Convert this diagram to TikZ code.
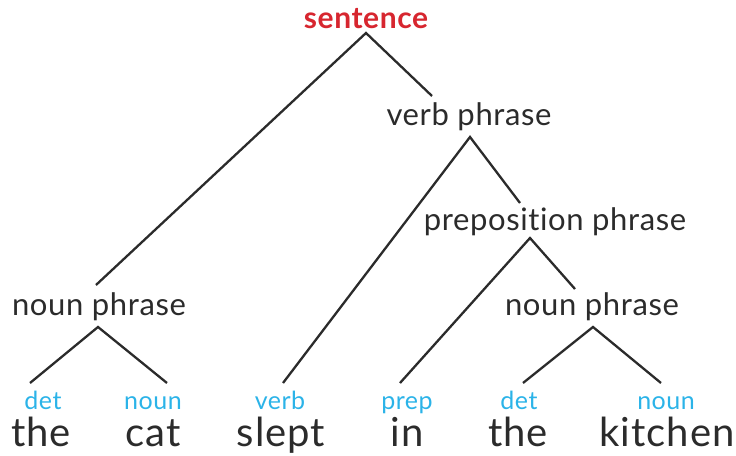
\documentclass[tikz,border=0pt]{standalone}
\usepackage{fontspec}
\setmainfont[Ligatures=NoCommon]{Lato}
\definecolor{ink}{HTML}{2B2B2B}
\definecolor{tagblue}{HTML}{2BB3E8}
\definecolor{headred}{HTML}{D7262F}
\begin{document}
\begin{tikzpicture}[x=1pt,y=-1pt,
  phrase/.style={anchor=base,inner sep=0pt,text=ink,font=\fontsize{31}{31}\selectfont\addfontfeature{LetterSpace=2}},
  root/.style={anchor=base,inner sep=0pt,text=headred,font=\bfseries\fontsize{30}{30}\selectfont\addfontfeature{LetterSpace=2}},
  tag/.style={anchor=base,inner sep=0pt,text depth=0pt,text=tagblue,font=\fontsize{25}{25}\selectfont\addfontfeature{LetterSpace=2}},
  word/.style={anchor=base,inner sep=0pt,text height=25pt,text=ink,font=\fontsize{40}{40}\selectfont\addfontfeature{LetterSpace=2.5}},
  branch/.style={draw=ink,line width=2.3pt}]
\useasboundingbox (0,0) rectangle (736,455);

% phrase labels
\node[root]   (s)   at (366,28)  {sentence};
\node[phrase] (vp)  at (469,125) {verb phrase};
\node[phrase] (pp)  at (555,230) {preposition phrase};
\node[phrase] (np1) at (99,315)  {noun phrase};
\node[phrase] (np2) at (592,315) {noun phrase};

% part-of-speech tags
\node[tag] (t1) at (43,409)  {det};
\node[tag] (t2) at (153,409) {noun};
\node[tag] (t3) at (280,409) {verb};
\node[tag] (t4) at (407,409) {prep};
\node[tag] (t5) at (519,409) {det};
\node[tag] (t6) at (666,409) {noun};

% words
\node[word] (w1) at (41,446)  {the};
\node[word] (w2) at (153,446) {cat};
\node[word] (w3) at (281,446) {slept};
\node[word] (w4) at (407,446) {in};
\node[word] (w5) at (518,446) {the};
\node[word] (w6) at (667,446) {kitchen};

% branch points
\coordinate (s-apex)   at (366,33);
\coordinate (vp-apex)  at (470,137);
\coordinate (pp-apex)  at (530,238);
\coordinate (np1-apex) at (98,327);
\coordinate (np2-apex) at (593,327);
\coordinate (np1-top)  at (96,285);
\coordinate (vp-top)   at (432,96);
\coordinate (pp-top)   at (520,203);
\coordinate (np2-top)  at (575,289);
\coordinate (t1-top)   at (30,383);
\coordinate (t2-top)   at (167,383);
\coordinate (t3-top)   at (283,383);
\coordinate (t4-top)   at (400,383);
\coordinate (t5-top)   at (523,383);
\coordinate (t6-top)   at (661,383);

% branches
\draw[branch] (np1-top) -- (s-apex) -- (vp-top);
\draw[branch] (t3-top) -- (vp-apex) -- (pp-top);
\draw[branch] (t4-top) -- (pp-apex) -- (np2-top);
\draw[branch] (t1-top) -- (np1-apex) -- (t2-top);
\draw[branch] (t5-top) -- (np2-apex) -- (t6-top);
\end{tikzpicture}
\end{document}
